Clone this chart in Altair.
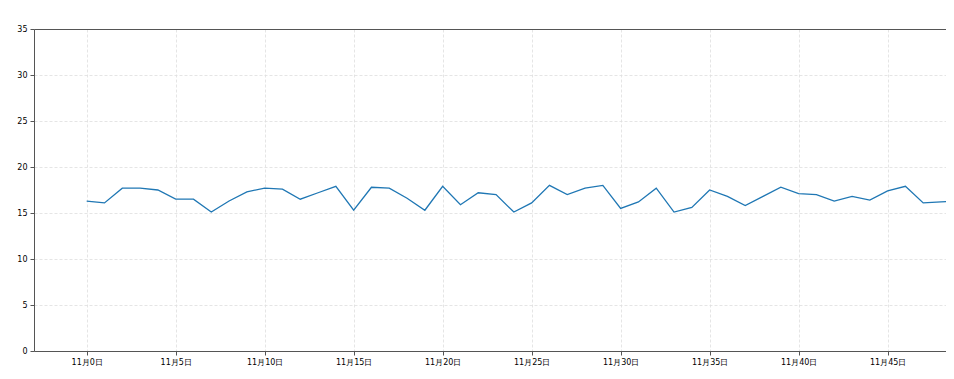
import altair as alt
import pandas as pd

day_index = list(range(50))
values = [16.3, 16.1, 17.7, 17.7, 17.5, 16.5, 16.5, 15.1, 16.3, 17.3,
          17.7, 17.6, 16.5, 17.2, 17.9, 15.3, 17.8, 17.7, 16.6, 15.3,
          17.9, 15.9, 17.2, 17.0, 15.1, 16.1, 18.0, 17.0, 17.7, 18.0,
          15.5, 16.2, 17.7, 15.1, 15.6, 17.5, 16.8, 15.8, 16.8, 17.8,
          17.1, 17.0, 16.3, 16.8, 16.4, 17.4, 17.9, 16.1, 16.2, 16.3]
x_ticks = [0, 5, 10, 15, 20, 25, 30, 35, 40, 45]
y_ticks = [0, 5, 10, 15, 20, 25, 30, 35]

df = pd.DataFrame({"day": day_index, "value": values})

FONT = "DejaVu Sans"

line = alt.Chart(df).mark_line(color="#1f77b4", strokeWidth=1.3, clip=True).encode(
    x=alt.X("day:Q",
            scale=alt.Scale(domain=[-2.96, 48.28], nice=False, zero=False),
            axis=alt.Axis(values=x_ticks, labelExpr="'11月' + datum.value + '日'",
                          title=None, grid=True, gridColor="#dedede", gridDash=[3, 2],
                          gridWidth=0.8, domainColor="#555555", domainWidth=1,
                          tickColor="#555555", tickSize=4, labelFontSize=8,
                          labelFont=FONT, labelColor="#000000", labelPadding=3)),
    y=alt.Y("value:Q",
            scale=alt.Scale(domain=[0, 35], nice=False),
            axis=alt.Axis(values=y_ticks, title=None, grid=True, gridColor="#dedede",
                          gridDash=[3, 2], gridWidth=0.8, domainColor="#555555",
                          domainWidth=1, tickColor="#555555", tickSize=4,
                          labelFontSize=8, labelFont=FONT, labelColor="#000000",
                          labelPadding=3)),
)

top_border = alt.Chart(df).mark_line(opacity=0).encode(
    x=alt.X("day:Q", axis=alt.Axis(orient="top", labels=False, ticks=False, grid=False,
                                    title=None, domainColor="#555555", domainWidth=1)),
    y=alt.Y("value:Q"),
)

chart = alt.layer(line, top_border).resolve_axis(x="independent").properties(
    width=912, height=322,
    autosize=alt.AutoSizeParams(type="none"),
    padding={"left": 26, "top": 21, "right": 0, "bottom": 18},
).configure_view(stroke=None).configure(background="white")

chart.save("out.html", embed_options={"renderer": "svg", "actions": False})
